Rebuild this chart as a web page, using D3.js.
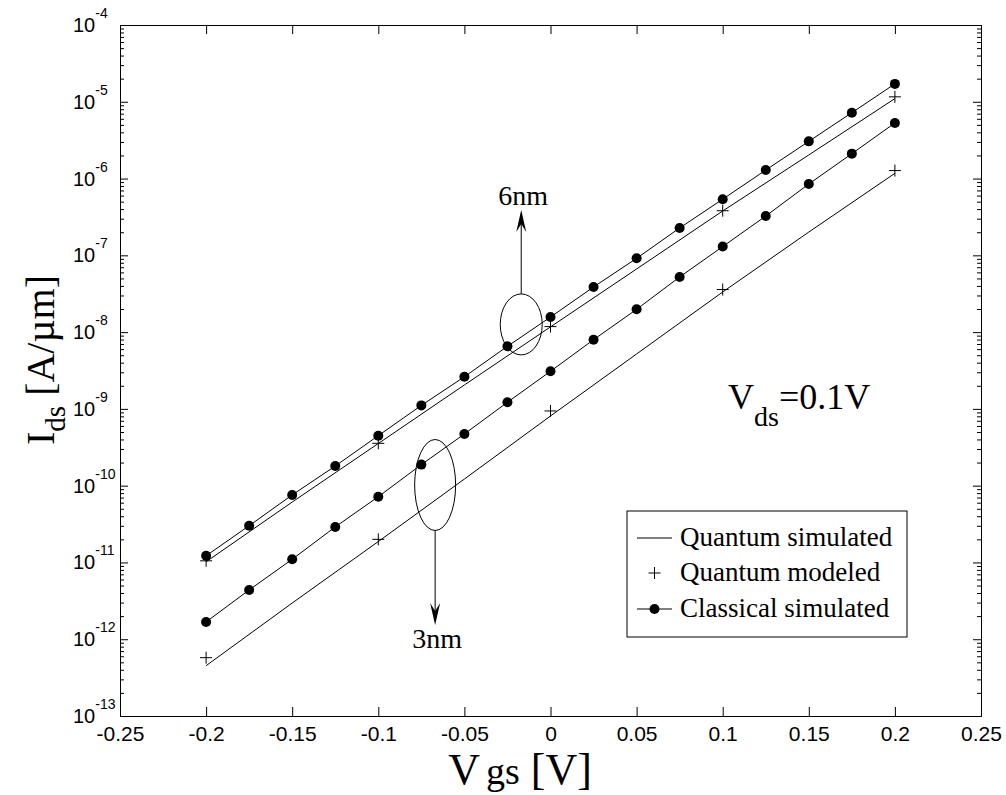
<!DOCTYPE html>
<html>
<head>
<meta charset="utf-8">
<script src="https://cdn.jsdelivr.net/npm/d3@7/dist/d3.min.js"></script>
<style>
  body { margin: 0; background: #fff; }
  svg { display: block; }
</style>
</head>
<body>
<div id="chart"></div>
<script>
// gate voltages (V)
const vgsClassical = [-0.2, -0.175, -0.15, -0.125, -0.1, -0.075, -0.05, -0.025, 0,
  0.025, 0.05, 0.075, 0.1, 0.125, 0.15, 0.175, 0.2];
const vgsQuantum = [-0.2, -0.15, -0.1, -0.05, 0, 0.05, 0.1, 0.15, 0.2];
const vgsModeled = [-0.2, -0.1, 0, 0.1, 0.2];

// drain current (A/um)
const classical6nm = [1.22e-11, 3.01e-11, 7.57e-11, 1.80e-10, 4.48e-10, 1.11e-9, 2.62e-9,
  6.53e-9, 1.57e-8, 3.87e-8, 9.14e-8, 2.27e-7, 5.38e-7, 1.29e-6, 3.05e-6, 7.21e-6, 1.71e-5];
const classical3nm = [1.68e-12, 4.38e-12, 1.10e-11, 2.90e-11, 7.18e-11, 1.88e-10, 4.71e-10,
  1.22e-9, 3.09e-9, 7.96e-9, 1.98e-8, 5.22e-8, 1.30e-7, 3.25e-7, 8.49e-7, 2.11e-6, 5.30e-6];
const quantum6nm = [1.02e-11, 6.12e-11, 3.54e-10, 2.05e-9, 1.17e-8, 6.64e-8, 3.78e-7, 2.03e-6, 1.10e-5];
const quantum3nm = [4.52e-13, 2.96e-12, 1.87e-11, 1.22e-10, 8.08e-10, 5.19e-9, 3.33e-8, 2.01e-7, 1.17e-6];
const modeled6nm = [1.05e-11, 3.56e-10, 1.18e-8, 3.81e-7, 1.16e-5];
const modeled3nm = [5.75e-13, 2.00e-11, 9.40e-10, 3.59e-8, 1.27e-6];

const xTicks = [-0.25, -0.2, -0.15, -0.1, -0.05, 0, 0.05, 0.1, 0.15, 0.2, 0.25];
const xTickLabels = ["-0.25", "-0.2", "-0.15", "-0.1", "-0.05", "0", "0.05", "0.1", "0.15", "0.2", "0.25"];
const yExponents = [-13, -12, -11, -10, -9, -8, -7, -6, -5, -4];
const legendLabels = ["Quantum simulated", "Quantum modeled", "Classical simulated"];

// annotation anchors in data units
const ellipse6 = { vgs: -0.017, ids: 1.26e-8 };
const ellipse3 = { vgs: -0.067, ids: 1.02e-10 };
const arrow6Tip = 3.9e-7;
const arrow3Tip = 1.53e-12;

const width = 1006;
const height = 795;
const margin = { top: 25, right: 25, bottom: 79, left: 120 };
const serif = "'Liberation Serif', 'Times New Roman', serif";
const sans = "'Liberation Sans', Arial, sans-serif";

const svg = d3.select("#chart").append("svg")
  .attr("width", width)
  .attr("height", height);

const x = d3.scaleLinear().domain([-0.25, 0.25]).range([margin.left, width - margin.right]);
const y = d3.scaleLog().domain([1e-13, 1e-4]).range([height - margin.bottom, margin.top]);

const minorTicks = [];
for (const e of yExponents.slice(0, -1)) {
  for (let k = 2; k <= 9; k++) minorTicks.push(k * Math.pow(10, e));
}
const majorY = yExponents.map((e) => Math.pow(10, e));

// axes, ticks pointing inward
const bottom = svg.append("g")
  .attr("transform", `translate(0,${y.range()[0]})`)
  .call(d3.axisBottom(x).tickValues(xTicks).tickSizeInner(-9).tickSizeOuter(0).tickPadding(10)
    .tickFormat((d, i) => xTickLabels[i]));
bottom.selectAll("text").style("font-family", sans).style("font-size", "21px").attr("fill", "#000");

svg.append("g")
  .attr("transform", `translate(0,${margin.top})`)
  .call(d3.axisTop(x).tickValues(xTicks).tickSizeInner(-9).tickSizeOuter(0).tickFormat(""));

const axisY = (g, side, sz, vals) => g.call((side === "left" ? d3.axisLeft(y) : d3.axisRight(y))
  .tickValues(vals).tickSizeInner(sz).tickSizeOuter(0).tickFormat(""));

svg.append("g").attr("transform", `translate(${margin.left},0)`).call(axisY, "left", -8, majorY);
svg.append("g").attr("transform", `translate(${margin.left},0)`).call(axisY, "left", -4, minorTicks);
svg.append("g").attr("transform", `translate(${width - margin.right},0)`).call(axisY, "right", -8, majorY);
svg.append("g").attr("transform", `translate(${width - margin.right},0)`).call(axisY, "right", -4, minorTicks);

svg.selectAll(".domain").attr("stroke", "#000");
svg.selectAll(".tick line").attr("stroke", "#000");

// y labels as 10^n
const yLab = svg.append("g").style("font-family", sans).attr("fill", "#000");
yExponents.forEach((e) => {
  const t = yLab.append("text")
    .attr("x", 73)
    .attr("y", y(Math.pow(10, e)) + 7)
    .style("font-size", "20px");
  t.append("tspan").text("10");
  t.append("tspan").attr("dy", -14).style("font-size", "14px").text(String(e));
});

// lines
const line = (xs) => d3.line().x((d, i) => x(xs[i])).y((d) => y(d));
const plot = svg.append("g");

[quantum6nm, quantum3nm].forEach((s) => {
  plot.append("path").datum(s).attr("d", line(vgsQuantum))
    .attr("fill", "none").attr("stroke", "#000").attr("stroke-width", 1);
});
[classical6nm, classical3nm].forEach((s) => {
  plot.append("path").datum(s).attr("d", line(vgsClassical))
    .attr("fill", "none").attr("stroke", "#000").attr("stroke-width", 1);
  plot.selectAll(null).data(s).enter().append("circle")
    .attr("cx", (d, i) => x(vgsClassical[i]))
    .attr("cy", (d) => y(d))
    .attr("r", 5)
    .attr("fill", "#000");
});

const plus = (g, cx, cy) => {
  g.append("path")
    .attr("d", `M${cx - 6},${cy}H${cx + 6}M${cx},${cy - 6}V${cy + 6}`)
    .attr("stroke", "#000").attr("stroke-width", 1).attr("fill", "none");
};
[modeled6nm, modeled3nm].forEach((s) => {
  s.forEach((d, i) => plus(plot, x(vgsModeled[i]), y(d)));
});

// annotations
const ann = svg.append("g").attr("fill", "none").attr("stroke", "#000").attr("stroke-width", 1);
const e6x = x(ellipse6.vgs), e6y = y(ellipse6.ids);
const e3x = x(ellipse3.vgs), e3y = y(ellipse3.ids);
ann.append("ellipse").attr("cx", e6x).attr("cy", e6y).attr("rx", 21).attr("ry", 30.5);
ann.append("ellipse").attr("cx", e3x).attr("cy", e3y).attr("rx", 20.5).attr("ry", 45.5);

const a6 = y(arrow6Tip);
ann.append("line").attr("x1", e6x).attr("x2", e6x).attr("y1", e6y - 30.5).attr("y2", a6 + 4);
ann.append("path").attr("d", `M${e6x},${a6}L${e6x - 5},${a6 + 22}L${e6x},${a6 + 14}L${e6x + 5},${a6 + 22}Z`)
  .attr("fill", "#000").attr("stroke", "none");

const a3 = y(arrow3Tip);
ann.append("line").attr("x1", e3x).attr("x2", e3x).attr("y1", e3y + 45.5).attr("y2", a3 - 4);
ann.append("path").attr("d", `M${e3x},${a3}L${e3x - 5},${a3 - 22}L${e3x},${a3 - 14}L${e3x + 5},${a3 - 22}Z`)
  .attr("fill", "#000").attr("stroke", "none");

const txt = svg.append("g").style("font-family", serif).attr("fill", "#000");
txt.append("text").attr("x", e6x + 2).attr("y", a6 - 5).attr("text-anchor", "middle")
  .style("font-size", "28px").text("6nm");
txt.append("text").attr("x", e3x + 2).attr("y", a3 + 23).attr("text-anchor", "middle")
  .style("font-size", "28px").text("3nm");

const vds = txt.append("text").attr("x", 728).attr("y", 409).style("font-size", "36px");
vds.append("tspan").text("V");
vds.append("tspan").attr("dy", 17).style("font-size", "28px").text("ds");
vds.append("tspan").attr("dy", -17).text("=0.1V");

// axis titles
const xt = txt.append("text").attr("x", 520).attr("y", 784).attr("text-anchor", "middle")
  .style("font-size", "44px");
xt.append("tspan").text("V");
xt.append("tspan").attr("dx", 6).style("font-size", "38px").text("gs");
xt.append("tspan").text(" [V]");

const yt = txt.append("text")
  .attr("transform", `translate(54,360) rotate(-90)`)
  .attr("text-anchor", "middle").style("font-size", "40px");
yt.append("tspan").text("I");
yt.append("tspan").attr("dy", 11).style("font-size", "29px").text("ds");
yt.append("tspan").attr("dy", -11).text(" [A/\u00b5m]");

// legend
const lg = svg.append("g");
lg.append("rect").attr("x", 627).attr("y", 511).attr("width", 280).attr("height", 126)
  .attr("fill", "#fff").attr("stroke", "#000").attr("stroke-width", 1);
const rowsY = [538, 573, 609];
legendLabels.forEach((label, i) => {
  const cy = rowsY[i];
  if (i === 0 || i === 2) {
    lg.append("line").attr("x1", 637).attr("x2", 672).attr("y1", cy).attr("y2", cy)
      .attr("stroke", "#000").attr("stroke-width", 1);
  }
  if (i === 1) plus(lg, 654.5, cy);
  if (i === 2) lg.append("circle").attr("cx", 654.5).attr("cy", cy).attr("r", 5).attr("fill", "#000");
  lg.append("text").attr("x", 680).attr("y", cy + 8)
    .style("font-family", serif).style("font-size", "27px").attr("fill", "#000")
    .text(label);
});
</script>
</body>
</html>
